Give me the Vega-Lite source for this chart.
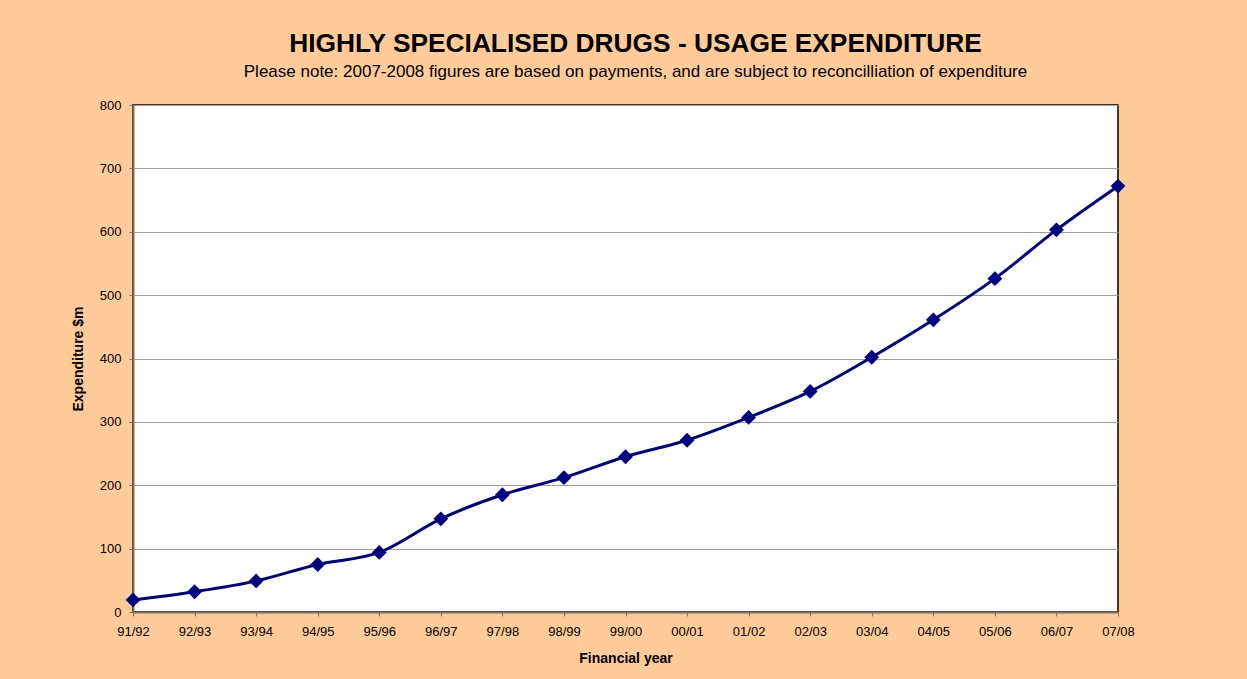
{
  "$schema": "https://vega.github.io/schema/vega-lite/v6.json",
  "autosize": {"type": "none"},
  "width": 985,
  "height": 507,
  "padding": {"left": 133, "top": 105, "right": 129, "bottom": 67},
  "background": "#FFCC99",
  "title": {
    "text": "HIGHLY SPECIALISED DRUGS - USAGE EXPENDITURE",
    "subtitle": "Please note: 2007-2008 figures are based on payments, and are subject to reconcilliation of expenditure",
    "font": "Liberation Sans",
    "fontSize": 26.3,
    "fontWeight": "bold",
    "color": "#000000",
    "subtitleFont": "Liberation Sans",
    "subtitleFontSize": 17,
    "subtitleColor": "#000000",
    "subtitlePadding": 7,
    "anchor": "middle",
    "offset": 19,
    "dx": 10
  },
  "config": {
    "view": {"fill": "#FFFFFF", "stroke": "#000000", "strokeWidth": 1.5},
    "font": "Liberation Sans"
  },
  "data": {
    "values": [
      {"year": "91/92", "exp": 19},
      {"year": "92/93", "exp": 32},
      {"year": "93/94", "exp": 49},
      {"year": "94/95", "exp": 75},
      {"year": "95/96", "exp": 94},
      {"year": "96/97", "exp": 147},
      {"year": "97/98", "exp": 185},
      {"year": "98/99", "exp": 212},
      {"year": "99/00", "exp": 245},
      {"year": "00/01", "exp": 271},
      {"year": "01/02", "exp": 307},
      {"year": "02/03", "exp": 348},
      {"year": "03/04", "exp": 402},
      {"year": "04/05", "exp": 461},
      {"year": "05/06", "exp": 526},
      {"year": "06/07", "exp": 603},
      {"year": "07/08", "exp": 672}
    ]
  },
  "encoding": {
    "x": {
      "field": "year",
      "type": "ordinal",
      "sort": null,
      "scale": {"type": "point", "padding": 0},
      "axis": {
        "title": "Financial year",
        "titleFontSize": 14,
        "titleFontWeight": "bold",
        "titleColor": "#000000",
        "titlePadding": 13,
        "labelAngle": 0,
        "labelFontSize": 13,
        "labelColor": "#000000",
        "labelPadding": 9,
        "tickSize": 4,
        "tickColor": "#7F7060",
        "domainColor": "#7F7060",
        "domainWidth": 2,
        "grid": false
      }
    },
    "y": {
      "field": "exp",
      "type": "quantitative",
      "scale": {"domain": [0, 800], "nice": false},
      "axis": {
        "title": "Expenditure $m",
        "titleFontSize": 14,
        "titleFontWeight": "bold",
        "titleColor": "#000000",
        "titlePadding": 14,
        "values": [0, 100, 200, 300, 400, 500, 600, 700, 800],
        "labelFontSize": 13,
        "labelColor": "#000000",
        "labelPadding": 8,
        "tickSize": 4,
        "tickColor": "#7F7060",
        "domainColor": "#7F7060",
        "domainWidth": 2,
        "grid": true,
        "gridColor": "#A0A0A0",
        "gridWidth": 1
      }
    }
  },
  "layer": [
    {
      "mark": {"type": "line", "color": "#000080", "strokeWidth": 3, "interpolate": "monotone"}
    },
    {
      "mark": {"type": "point", "shape": "diamond", "filled": true, "color": "#000080", "size": 220, "opacity": 1}
    }
  ]
}
